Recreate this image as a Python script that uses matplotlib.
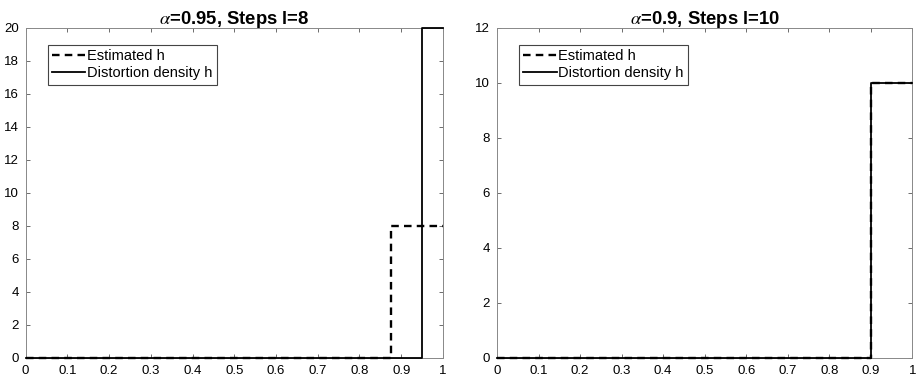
import matplotlib
matplotlib.use('Agg')
import matplotlib.pyplot as plt

plt.rcParams['font.family'] = ['Liberation Sans', 'DejaVu Sans']
plt.rcParams['mathtext.fontset'] = 'stix'

# left panel: alpha=0.95, l=8
left_est_x = [0, 0.875, 1]
left_est_h = [0, 8, 8]
left_true_x = [0, 0.95, 1]
left_true_h = [0, 20, 20]

# right panel: alpha=0.9, l=10
right_est_x = [0, 0.9, 1]
right_est_h = [0, 10, 10]
right_true_x = [0, 0.9, 1]
right_true_h = [0, 10, 10]

x_ticks = [0, 0.1, 0.2, 0.3, 0.4, 0.5, 0.6, 0.7, 0.8, 0.9, 1]
x_labels = ['0', '0.1', '0.2', '0.3', '0.4', '0.5', '0.6', '0.7', '0.8', '0.9', '1']

fig = plt.figure(figsize=(9.17, 3.82), dpi=100)
ax1 = fig.add_axes([0.028, 0.063, 0.455, 0.864])
ax2 = fig.add_axes([0.542, 0.063, 0.453, 0.864])


def draw(ax, ex, eh, tx, th, ymax, title):
    ax.plot(ex, eh, drawstyle='steps-post', color='black', lw=1.7,
            linestyle=(0, (3.2, 2.2)), label='Estimated h', clip_on=False,
            zorder=3)
    ax.plot(tx, th, drawstyle='steps-post', color='black', lw=1.3,
            label='Distortion density h', clip_on=False, zorder=3)
    ax.set_xlim(0, 1)
    ax.set_ylim(0, ymax)
    ax.set_xticks(x_ticks)
    ax.set_xticklabels(x_labels)
    ax.set_yticks(range(0, ymax + 1, 2))
    ax.tick_params(direction='in', top=True, right=True, labelsize=9.5,
                   length=3, color='#555555', width=0.6, pad=5)
    for s in ax.spines.values():
        s.set_color('#888888')
        s.set_linewidth(0.7)
    ax.set_title(title, fontsize=13.3, fontweight='bold', pad=3)
    leg = ax.legend(loc='upper left', fontsize=10.5, handlelength=2.3,
                    handletextpad=0.1, borderpad=0.3, labelspacing=0.2,
                    fancybox=False, framealpha=1, bbox_to_anchor=(0.035, 0.97))
    leg.get_frame().set_edgecolor('#444444')
    leg.get_frame().set_linewidth(0.8)


draw(ax1, left_est_x, left_est_h, left_true_x, left_true_h, 20,
     r'$\alpha$=0.95, Steps l=8')
draw(ax2, right_est_x, right_est_h, right_true_x, right_true_h, 12,
     r'$\alpha$=0.9, Steps l=10')

fig.savefig('out.png', dpi=100)
